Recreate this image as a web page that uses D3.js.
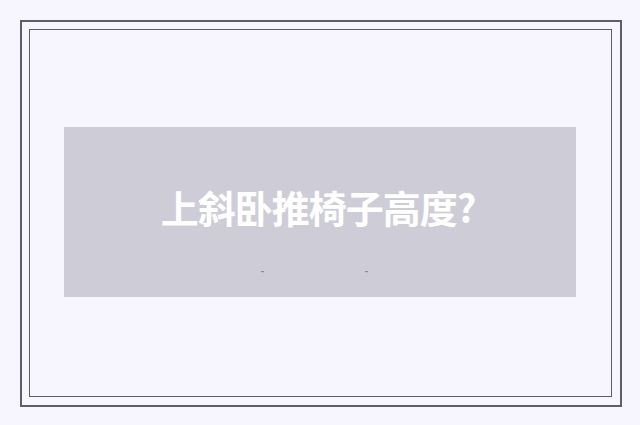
<!DOCTYPE html>
<html>
<head>
<meta charset="utf-8">
<script src="https://cdn.jsdelivr.net/npm/d3@7"></script>
<style>
html,body{margin:0;padding:0;background:#f7f6fe;overflow:hidden;}
svg{display:block;}
</style>
</head>
<body>
<script>
const titles = ["上斜卧推椅子高度?"];
const frames = ["outer", "inner"];
const specks = ["a", "b"];

const W = 640, H = 425;
const svg = d3.select("body").append("svg").attr("width", W).attr("height", H);
svg.append("rect").attr("width", W).attr("height", H).attr("fill", "#f7f6fe");

const frameStyle = {
  outer: {x: 21, y: 21, w: 600, h: 385, sw: 2},
  inner: {x: 29.5, y: 29.5, w: 582, h: 367, sw: 1}
};
svg.selectAll("rect.frame").data(frames).enter().append("rect")
  .attr("class", "frame")
  .attr("x", d => frameStyle[d].x).attr("y", d => frameStyle[d].y)
  .attr("width", d => frameStyle[d].w).attr("height", d => frameStyle[d].h)
  .attr("fill", "none").attr("stroke", "#5f5e66")
  .attr("stroke-width", d => frameStyle[d].sw);

// placeholder panel
const panel = {x: 64, y: 127, w: 512, h: 170};
svg.append("rect").attr("x", panel.x).attr("y", panel.y)
  .attr("width", panel.w).attr("height", panel.h).attr("fill", "#cecdd7");

svg.selectAll("text.title").data(titles).enter().append("text")
  .attr("class", "title")
  .attr("x", 318)
  .attr("y", 223)
  .attr("text-anchor", "middle")
  .attr("font-family", "'Noto Sans CJK SC', sans-serif")
  .attr("font-weight", "bold")
  .attr("font-size", 38)
  .attr("letter-spacing", -1)
  .attr("fill", "#ffffff")
  .text(d => d);

const speckX = {a: 261, b: 365};
svg.selectAll("rect.speck").data(specks).enter().append("rect")
  .attr("class", "speck")
  .attr("x", d => speckX[d]).attr("y", 271)
  .attr("width", 3).attr("height", 1.2)
  .attr("fill", "#8e8d96");
</script>
</body>
</html>
